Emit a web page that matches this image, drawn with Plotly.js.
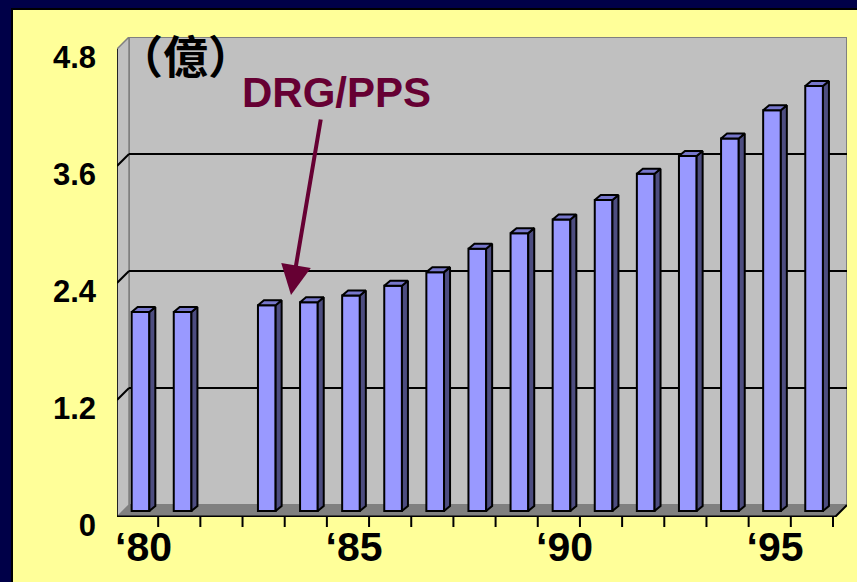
<!DOCTYPE html>
<html>
<head>
<meta charset="utf-8">
<script src="https://cdn.plot.ly/plotly-3.0.1.min.js"></script>
<style>
  html, body { margin: 0; padding: 0; background: #000048; }
  #chart { width: 857px; height: 582px; }
</style>
</head>
<body>
<div id="chart"></div>
<script>
// Annual values (億), '82 has no column
const years = ['80','81','82','83','84','85','86','87','88','89','90','91','92','93','94','95','96'];
const costs = [2.04, 2.04, null, 2.11, 2.14, 2.21, 2.31, 2.45, 2.69, 2.85, 2.99, 3.19, 3.46, 3.64, 3.82, 4.11, 4.36];

// Axis labels
const yTickVals = [0, 1.2, 2.4, 3.6, 4.8];
const yTickText = ['0', '1.2', '2.4', '3.6', '4.8'];
const xLabelYears = ['80', '85', '90', '95'];
const unitLabel = '（億）';
const eventLabel = 'DRG/PPS';

// ---- layout geometry (pixels) ----
const PLOT = { l: 117, t: 37, w: 730, h: 480 };
const X0 = 140.5, PXC = 42.1;   // column plane: first category centre, px per category
const Y0 = 511, PXU = 97.5;     // column plane: zero line, px per unit
const BACK = { l: 129, r: 847, b: 505, t: 37 };
const FRONT = { l: 117, r: 835, b: 517, t: 49 };
const BAR_W = 0.42;             // column width in categories
const SIDE_PX = 6, TOP_PX = 5;  // column depth projection

const xd = px => (px - X0) / PXC;
const yd = py => (Y0 - py) / PXU;
const paperX = px => (px - PLOT.l) / PLOT.w;
const paperY = py => (PLOT.t + PLOT.h - py) / PLOT.h;

const xs = years.map((_, i) => i);
const sx = SIDE_PX / PXC, sy = TOP_PX / PXU;

// side and top faces of each column
const sideX = [], sideY = [], topX = [], topY = [];
costs.forEach((v, i) => {
  if (v === null) return;
  const a = i - BAR_W / 2, b = i + BAR_W / 2;
  sideX.push(b, b + sx, b + sx, b, b, null);
  sideY.push(0, sy, v + sy, v, 0, null);
  topX.push(a, a + sx, b + sx, b, a, null);
  topY.push(v, v + sy, v + sy, v, v, null);
});

const traces = [
  {
    type: 'bar', x: xs, y: costs, width: BAR_W,
    marker: { color: '#9999FF', line: { color: '#000000', width: 2 } },
    hoverinfo: 'skip'
  },
  {
    type: 'scatter', mode: 'lines', x: sideX, y: sideY, fill: 'toself',
    fillcolor: '#4D4D80', line: { color: '#000000', width: 2 }, hoverinfo: 'skip'
  },
  {
    type: 'scatter', mode: 'lines', x: topX, y: topY, fill: 'toself',
    fillcolor: '#7777CC', line: { color: '#000000', width: 2 }, hoverinfo: 'skip'
  }
];

const poly = pts => 'M' + pts.map(p => xd(p[0]) + ',' + yd(p[1])).join('L') + 'Z';
const seg = (p, q, color, width) => ({
  type: 'line', xref: 'x', yref: 'y', layer: 'below',
  x0: xd(p[0]), y0: yd(p[1]), x1: xd(q[0]), y1: yd(q[1]),
  line: { color: color, width: width }
});

const shapes = [];
// yellow panel with black edge
shapes.push({
  type: 'rect', xref: 'paper', yref: 'paper', layer: 'below',
  x0: paperX(12), x1: paperX(870), y0: paperY(600), y1: paperY(9),
  fillcolor: '#FFFF99', line: { color: '#000000', width: 2 }
});
// back wall
shapes.push({
  type: 'path', xref: 'x', yref: 'y', layer: 'below',
  path: poly([[BACK.l, BACK.b], [BACK.l, BACK.t], [BACK.r, BACK.t], [BACK.r, BACK.b]]),
  fillcolor: '#C0C0C0', line: { color: '#808080', width: 2 }
});
// side wall
shapes.push({
  type: 'path', xref: 'x', yref: 'y', layer: 'below',
  path: poly([[FRONT.l, FRONT.b], [FRONT.l, FRONT.t], [BACK.l, BACK.t], [BACK.l, BACK.b]]),
  fillcolor: '#C0C0C0', line: { color: '#808080', width: 1.5 }
});
// floor
shapes.push({
  type: 'path', xref: 'x', yref: 'y', layer: 'below',
  path: poly([[FRONT.l, FRONT.b], [BACK.l, BACK.b], [BACK.r, BACK.b], [FRONT.r, FRONT.b]]),
  fillcolor: '#808080', line: { color: '#808080', width: 1 }
});
// gridlines on back wall plus their slant on the side wall
yTickVals.slice(1, 4).forEach(v => {
  const dy = v * PXU;
  shapes.push(seg([BACK.l, BACK.b - dy], [BACK.r, BACK.b - dy], '#000000', 2));
  shapes.push(seg([FRONT.l, FRONT.b - dy], [BACK.l, BACK.b - dy], '#000000', 2));
});
// front edges
shapes.push(seg([FRONT.l, FRONT.b], [FRONT.l, FRONT.t], '#000000', 1.5));
shapes.push(seg([FRONT.l, FRONT.b], [FRONT.r, FRONT.b], '#000000', 3));
shapes.push(seg([FRONT.r, FRONT.b], [BACK.r, BACK.b], '#000000', 2));
// category tick marks along the front edge
const tickStart = 116, tickStep = (FRONT.r - 2 - tickStart) / years.length;
for (let k = 0; k <= years.length; k++) {
  const px = tickStart + k * tickStep;
  shapes.push({
    type: 'line', xref: 'x', yref: 'paper', layer: 'above',
    x0: xd(px), x1: xd(px), y0: paperY(FRONT.b), y1: paperY(FRONT.b + 10),
    line: { color: '#000000', width: 2 }
  });
}

const annotations = [
  {
    xref: 'paper', yref: 'paper', x: paperX(185), y: paperY(55),
    text: '<b>' + unitLabel + '</b>', showarrow: false,
    xanchor: 'center', yanchor: 'middle',
    font: { family: '"Noto Sans CJK TC", "Noto Sans CJK SC", sans-serif', size: 45, color: '#000000' }
  },
  {
    xref: 'paper', yref: 'paper', x: paperX(336), y: paperY(92),
    text: '<b>' + eventLabel + '</b>', showarrow: false,
    xanchor: 'center', yanchor: 'middle',
    font: { family: '"Liberation Sans", Arial, sans-serif', size: 42, color: '#660033' }
  },
  {
    xref: 'x', yref: 'y', axref: 'x', ayref: 'y',
    x: xd(291), y: yd(295), ax: xd(321), ay: yd(118),
    text: '', showarrow: true, arrowhead: 2, arrowsize: 1.5, arrowwidth: 4,
    arrowcolor: '#660033', standoff: 0, startstandoff: 0
  }
];

const layout = {
  width: 857, height: 582,
  margin: { l: PLOT.l, r: 857 - PLOT.l - PLOT.w, t: PLOT.t, b: 582 - PLOT.t - PLOT.h, pad: 0 },
  paper_bgcolor: '#000048',
  plot_bgcolor: 'rgba(0,0,0,0)',
  showlegend: false,
  hovermode: false,
  xaxis: {
    range: [xd(PLOT.l), xd(PLOT.l + PLOT.w)], automargin: false,
    showgrid: false, zeroline: false, showline: false, ticks: '',
    tickmode: 'array',
    tickvals: xLabelYears.map(y => years.indexOf(y)),
    ticktext: xLabelYears.map(y => '‘' + y),
    ticklabelstandoff: 2, ticklabelshift: 3,
    tickfont: { family: '"Liberation Sans Narrow", "Arial Narrow", "Liberation Sans", sans-serif', size: 41, color: '#000000', weight: 'bold' }
  },
  yaxis: {
    range: [yd(PLOT.t + PLOT.h), yd(PLOT.t)], automargin: false,
    showgrid: false, zeroline: false, showline: false, ticks: '',
    tickmode: 'array', tickvals: yTickVals, ticktext: yTickText,
    ticklabelstandoff: 20, ticklabelshift: 14,
    tickfont: { family: '"Liberation Sans", Arial, sans-serif', size: 31, color: '#000000', weight: 'bold' }
  },
  bargap: 0,
  shapes: shapes,
  annotations: annotations
};

Plotly.newPlot('chart', traces, layout, { staticPlot: true, displayModeBar: false });
</script>
</body>
</html>
